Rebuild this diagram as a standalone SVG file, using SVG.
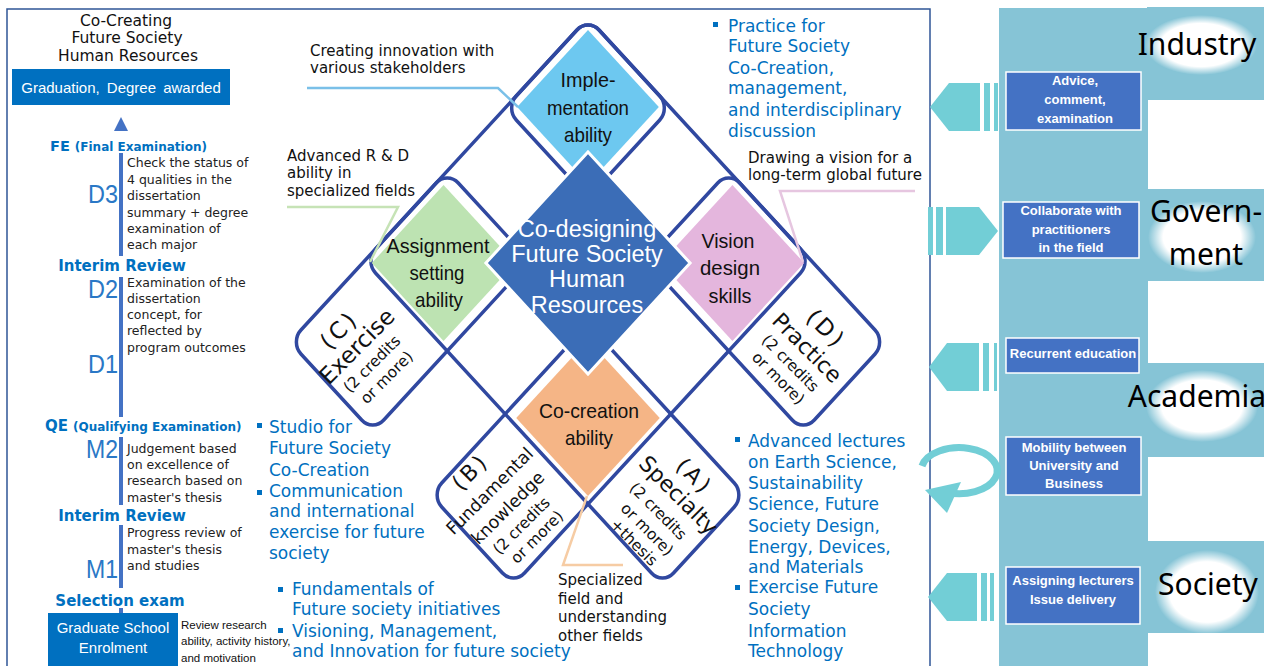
<svg xmlns="http://www.w3.org/2000/svg" width="1274" height="666" viewBox="0 0 1274 666">
<defs>
<style>
.band{fill:none;stroke:#3048A0;stroke-width:3.5;vector-effect:non-scaling-stroke}
.bt{font-family:"DejaVu Sans",sans-serif;font-size:17px;fill:#0070C0}
.sm{font-family:"DejaVu Sans",sans-serif;font-size:12.5px;fill:#222}
.lbl{font-family:"DejaVu Sans",sans-serif;font-size:15px;fill:#111}
.hd{font-family:"DejaVu Sans",sans-serif;font-weight:bold;fill:#0070C0}
.dl{font-family:"Liberation Sans",Arial,sans-serif;font-size:25px;fill:#2A78C6;text-anchor:end}
.node{font-family:"Liberation Sans",Arial,sans-serif;font-size:21px;fill:#111;text-anchor:middle}
.rot{font-family:"DejaVu Sans",sans-serif;fill:#111;text-anchor:middle}
.bx{font-family:"Liberation Sans",Arial,sans-serif;font-size:13px;font-weight:bold;fill:#fff;text-anchor:middle}
.big{font-family:"Noto Sans",sans-serif;font-size:30px;fill:#000;text-anchor:middle}
.arr{fill:#72CED6}
.panel{fill:#86C4D6}
.bar{fill:#4472C4}
.bul{fill:#0070C0}
.pbox{fill:#4472C4;stroke:#fff;stroke-width:1.5}
.lead{fill:none;stroke-width:2.5}
</style>
<radialGradient id="glow" cx="50%" cy="50%" r="50%">
<stop offset="0" stop-color="#fff"/>
<stop offset="0.72" stop-color="#fff"/>
<stop offset="1" stop-color="#fff" stop-opacity="0"/>
</radialGradient>
</defs>
<rect width="1274" height="666" fill="#fff"/>
<rect id="frame" x="7" y="9" width="923" height="700" fill="none" stroke="#2F5597" stroke-width="1.5"/>

<g id="panel">
<rect class="panel" x="999" y="8" width="149" height="660"/>
<rect class="panel" x="1147" y="7" width="117" height="93"/>
<rect class="panel" x="1147" y="189" width="117" height="92"/>
<rect class="panel" x="1147" y="363" width="117" height="94"/>
<rect class="panel" x="1147" y="541" width="117" height="92"/>
</g>

<g id="grid" transform="matrix(0.92,1,-0.92,1,588,18)">
<rect class="band" x="0" y="0" width="90" height="324" rx="12"/>
<rect class="band" x="0" y="0" width="324" height="90" rx="12"/>
<rect class="band" x="0" y="153" width="324" height="90" rx="12"/>
<rect class="band" x="153" y="0" width="90" height="324" rx="12"/>
</g>

<g id="node-implementation">
<rect transform="matrix(0.92,1,-0.92,1,588,18)" x="6" y="6" width="77" height="77" fill="#6DC8F0"/>
<text class="node" x="588" y="87" textLength="55" lengthAdjust="spacingAndGlyphs">Imple-</text>
<text class="node" x="588" y="115" textLength="82" lengthAdjust="spacingAndGlyphs">mentation</text>
<text class="node" x="588" y="142" textLength="48" lengthAdjust="spacingAndGlyphs">ability</text>
</g>
<g id="node-assignment">
<rect transform="matrix(0.92,1,-0.92,1,588,18)" x="5" y="162" width="78" height="78" fill="#BDE3B2"/>
<text class="node" x="438" y="253" textLength="103" lengthAdjust="spacingAndGlyphs">Assignment</text>
<text class="node" x="437" y="280" textLength="55" lengthAdjust="spacingAndGlyphs">setting</text>
<text class="node" x="439" y="307" textLength="48" lengthAdjust="spacingAndGlyphs">ability</text>
</g>
<g id="node-vision">
<rect transform="matrix(0.92,1,-0.92,1,588,18)" x="162" y="5" width="78" height="78" fill="#E4B6DD"/>
<text class="node" x="728" y="248" textLength="53" lengthAdjust="spacingAndGlyphs">Vision</text>
<text class="node" x="730" y="275" textLength="60" lengthAdjust="spacingAndGlyphs">design</text>
<text class="node" x="730" y="303" textLength="43" lengthAdjust="spacingAndGlyphs">skills</text>
</g>
<g id="node-cocreation">
<rect transform="matrix(0.92,1,-0.92,1,588,18)" x="161" y="161" width="78" height="78" fill="#F5B586"/>
<text class="node" x="589" y="418" textLength="100" lengthAdjust="spacingAndGlyphs">Co-creation</text>
<text class="node" x="589" y="445" textLength="48" lengthAdjust="spacingAndGlyphs">ability</text>
</g>
<g id="node-codesigning">
<rect transform="matrix(0.92,1,-0.92,1,588,18)" x="67" y="67" width="111" height="111" fill="#3B6DB7" stroke="#fff" stroke-width="3" vector-effect="non-scaling-stroke"/>
<g font-family="Liberation Sans, Arial, sans-serif" font-size="23.5" fill="#fff" text-anchor="middle">
<text x="587" y="237">Co-designing</text>
<text x="587" y="262">Future Society</text>
<text x="587" y="287">Human</text>
<text x="587" y="313">Resources</text>
</g>
</g>

<g id="node-exercise" transform="translate(360,355) rotate(-45)">
<text class="rot" x="3" y="-24.5" font-size="23" letter-spacing="3">(C)</text>
<text class="rot" x="4" y="-0.5" font-size="23">Exercise</text>
<text class="rot" x="2" y="20" font-size="15.5">(2 credits</text>
<text class="rot" x="3" y="40" font-size="15.5">or more)</text>
</g>
<g id="node-practice" transform="translate(805,350) rotate(45)">
<text class="rot" x="0" y="-22" font-size="23" letter-spacing="3">(D)</text>
<text class="rot" x="0" y="4.5" font-size="22">Practice</text>
<text class="rot" x="-1" y="25" font-size="15.5">(2 credits</text>
<text class="rot" x="1" y="44" font-size="15.5">or more)</text>
</g>
<g id="node-fundamental" transform="translate(505,505) rotate(-45)">
<text class="rot" x="-1" y="-40.5" font-size="22" letter-spacing="3">(B)</text>
<text class="rot" x="-1" y="-14.7" font-size="17.5">Fundamental</text>
<text class="rot" x="0" y="10" font-size="17.5">knowledge</text>
<text class="rot" x="-3" y="31.5" font-size="15.5">(2 credits</text>
<text class="rot" x="0" y="50.5" font-size="15.5">or more)</text>
</g>
<g id="node-specialty" transform="translate(665,510) rotate(45)">
<text class="rot" x="-3" y="-37" font-size="22" letter-spacing="3">(A)</text>
<text class="rot" x="-1" y="-12.5" font-size="22">Specialty</text>
<text class="rot" x="-4" y="11" font-size="15.5">(2 credits</text>
<text class="rot" x="1" y="31.5" font-size="15.5">or more)</text>
<text class="rot" x="1" y="50" font-size="15.5">+thesis</text>
</g>

<g id="connectors">
<polyline class="lead" points="307,88 498,88 518,107" stroke="#7AC0E8"/>
<polyline class="lead" points="287,207 398,207 370,262" stroke="#C6E3B6"/>
<polyline class="lead" points="915,191 780,191 803,262" stroke="#E6C6E0"/>
<polyline class="lead" points="587,496 563,565 623,565" stroke="#F6CCA4"/>
<polygon class="bar" points="121,117 114,131 128,131"/>
<polygon class="arr" points="930,107 949,83 980,83 980,131 949,131"/>
<rect class="arr" x="984" y="83" width="6" height="48"/>
<rect class="arr" x="994" y="83" width="4" height="48"/>
<rect class="arr" x="928" y="207" width="5" height="48"/>
<rect class="arr" x="936" y="207" width="7" height="48"/>
<polygon class="arr" points="946,207 979,207 998,231 979,255 946,255"/>
<polygon class="arr" points="929,367 947,343 979,343 979,391 947,391"/>
<rect class="arr" x="983" y="343" width="6" height="48"/>
<rect class="arr" x="994" y="343" width="3" height="48"/>
<polygon class="arr" points="928,597 947,573 977,573 977,621 947,621"/>
<rect class="arr" x="981" y="573" width="6" height="48"/>
<rect class="arr" x="990" y="573" width="4" height="48"/>
<path d="M 922 466 A 38 23 0 1 1 945 492" fill="none" stroke="#72CED6" stroke-width="7"/>
<polygon class="arr" points="961,482 925,490 947,513"/>
</g>

<g id="node-title" font-family="DejaVu Sans, sans-serif" font-size="15.5" fill="#111" text-anchor="middle">
<text x="126" y="26">Co-Creating</text>
<text x="127" y="43">Future Society</text>
<text x="128" y="61">Human Resources</text>
</g>
<g id="node-graduation">
<rect x="12" y="69" width="218" height="36" fill="#0070C0"/>
<text x="121" y="93" font-family="Liberation Sans, Arial, sans-serif" font-size="15" fill="#fff" text-anchor="middle" word-spacing="3">Graduation, Degree awarded</text>
</g>

<g id="timeline">
<rect class="bar" x="119" y="153" width="4" height="103"/>
<rect class="bar" x="119" y="277" width="4" height="140"/>
<rect class="bar" x="119" y="437" width="4" height="68"/>
<rect class="bar" x="119" y="525" width="4" height="63"/>
<rect class="bar" x="119" y="608" width="4" height="6"/>
<text class="hd" x="50" y="151" font-size="14.5">FE<tspan font-size="12" dx="5">(Final Examination)</tspan></text>
<text class="hd" x="122" y="271" font-size="15" text-anchor="middle">Interim Review</text>
<text class="hd" x="45" y="431" font-size="15">QE<tspan font-size="12" dx="5">(Qualifying Examination)</tspan></text>
<text class="hd" x="122" y="521" font-size="15" text-anchor="middle">Interim Review</text>
<text class="hd" x="120" y="606" font-size="15" text-anchor="middle">Selection exam</text>
<text class="dl" x="118" y="203" textLength="30" lengthAdjust="spacingAndGlyphs">D3</text>
<text class="dl" x="118" y="298" textLength="30" lengthAdjust="spacingAndGlyphs">D2</text>
<text class="dl" x="118" y="373" textLength="30" lengthAdjust="spacingAndGlyphs">D1</text>
<text class="dl" x="118" y="458" textLength="32" lengthAdjust="spacingAndGlyphs">M2</text>
<text class="dl" x="118" y="578" textLength="32" lengthAdjust="spacingAndGlyphs">M1</text>
<g class="sm">
<text x="127" y="167">Check the status of</text>
<text x="127" y="184">4 qualities in the</text>
<text x="127" y="200">dissertation</text>
<text x="127" y="217">summary + degree</text>
<text x="127" y="233">examination of</text>
<text x="127" y="249">each major</text>
<text x="127" y="287">Examination of the</text>
<text x="127" y="303">dissertation</text>
<text x="127" y="319">concept, for</text>
<text x="127" y="335">reflected by</text>
<text x="127" y="352">program outcomes</text>
<text x="127" y="453">Judgement based</text>
<text x="127" y="469">on excellence of</text>
<text x="127" y="485">research based on</text>
<text x="127" y="502">master's thesis</text>
<text x="127" y="537">Progress review of</text>
<text x="127" y="554">master's thesis</text>
<text x="127" y="570">and studies</text>
</g>
</g>
<g id="node-enrolment">
<rect x="48" y="613" width="130" height="55" fill="#0070C0"/>
<g font-family="Liberation Sans, Arial, sans-serif" font-size="15" fill="#fff" text-anchor="middle">
<text x="113" y="633">Graduate School</text>
<text x="113" y="653">Enrolment</text>
</g>
<g font-family="Liberation Sans, Arial, sans-serif" font-size="11.5" fill="#111">
<text x="181" y="629">Review research</text>
<text x="181" y="645">ability, activity history,</text>
<text x="181" y="662">and motivation</text>
</g>
</g>

<g id="labels" class="lbl">
<text x="310" y="56">Creating innovation with</text>
<text x="310" y="73">various stakeholders</text>
<text x="287" y="161">Advanced R &amp; D</text>
<text x="287" y="178">ability in</text>
<text x="287" y="196">specialized fields</text>
<text x="748" y="163">Drawing a vision for a</text>
<text x="748" y="180">long-term global future</text>
<text x="558" y="585">Specialized</text>
<text x="558" y="604">field and</text>
<text x="558" y="622">understanding</text>
<text x="558" y="641">other fields</text>
</g>

<g id="courses-practice">
<rect class="bul" x="713" y="22" width="5" height="5"/>
<g class="bt">
<text x="728" y="32">Practice for</text>
<text x="728" y="52">Future Society</text>
<text x="728" y="74">Co-Creation,</text>
<text x="728" y="94">management,</text>
<text x="728" y="116">and interdisciplinary</text>
<text x="728" y="137">discussion</text>
</g>
</g>
<g id="courses-exercise">
<rect class="bul" x="257" y="423" width="5" height="5"/>
<rect class="bul" x="257" y="490" width="5" height="5"/>
<g class="bt">
<text x="269" y="433">Studio for</text>
<text x="269" y="454">Future Society</text>
<text x="269" y="476">Co-Creation</text>
<text x="269" y="497">Communication</text>
<text x="269" y="517">and international</text>
<text x="269" y="538">exercise for future</text>
<text x="269" y="559">society</text>
</g>
</g>
<g id="courses-fundamental">
<rect class="bul" x="278" y="587" width="5" height="5"/>
<rect class="bul" x="278" y="628" width="5" height="5"/>
<g class="bt">
<text x="292" y="595">Fundamentals of</text>
<text x="292" y="615">Future society initiatives</text>
<text x="292" y="637">Visioning, Management,</text>
<text x="292" y="657">and Innovation for future society</text>
</g>
</g>
<g id="courses-specialty">
<rect class="bul" x="735" y="437" width="5" height="5"/>
<rect class="bul" x="735" y="585" width="5" height="5"/>
<g class="bt">
<text x="748" y="447">Advanced lectures</text>
<text x="748" y="468">on Earth Science,</text>
<text x="748" y="489">Sustainability</text>
<text x="748" y="510">Science, Future</text>
<text x="748" y="532">Society Design,</text>
<text x="748" y="553">Energy, Devices,</text>
<text x="748" y="573">and Materials</text>
<text x="748" y="593">Exercise Future</text>
<text x="748" y="615">Society</text>
<text x="748" y="637">Information</text>
<text x="748" y="657">Technology</text>
</g>
</g>

<g id="node-industry">
<ellipse cx="1201" cy="45" rx="56" ry="30" fill="url(#glow)"/>
<text class="big" x="1197" y="55">Industry</text>
</g>
<g id="node-government">
<ellipse cx="1202" cy="237" rx="54" ry="36" fill="url(#glow)"/>
<text class="big" x="1206" y="222">Govern-</text>
<text class="big" x="1206" y="265">ment</text>
</g>
<g id="node-academia">
<ellipse cx="1202" cy="406" rx="56" ry="36" fill="url(#glow)"/>
<text class="big" x="1197" y="407">Academia</text>
</g>
<g id="node-society">
<ellipse cx="1207" cy="592" rx="52" ry="42" fill="url(#glow)"/>
<text class="big" x="1208" y="595">Society</text>
</g>

<g id="node-advice">
<rect class="pbox" x="1006" y="72" width="135" height="58"/>
<text class="bx" x="1075" y="85">Advice,</text>
<text class="bx" x="1075" y="104">comment,</text>
<text class="bx" x="1075" y="123">examination</text>
</g>
<g id="node-collaborate">
<rect class="pbox" x="1003" y="202" width="136" height="56"/>
<text class="bx" x="1071" y="215">Collaborate with</text>
<text class="bx" x="1071" y="234">practitioners</text>
<text class="bx" x="1071" y="252">in the field</text>
</g>
<g id="node-recurrent">
<rect class="pbox" x="1006" y="338" width="133" height="35"/>
<text class="bx" x="1073" y="358">Recurrent education</text>
</g>
<g id="node-mobility">
<rect class="pbox" x="1006" y="437" width="135" height="58"/>
<text class="bx" x="1074" y="452">Mobility between</text>
<text class="bx" x="1074" y="470">University and</text>
<text class="bx" x="1074" y="488">Business</text>
</g>
<g id="node-lecturers">
<rect class="pbox" x="1006" y="567" width="134" height="57"/>
<text class="bx" x="1073" y="585">Assigning lecturers</text>
<text class="bx" x="1073" y="604">Issue delivery</text>
</g>
</svg>
